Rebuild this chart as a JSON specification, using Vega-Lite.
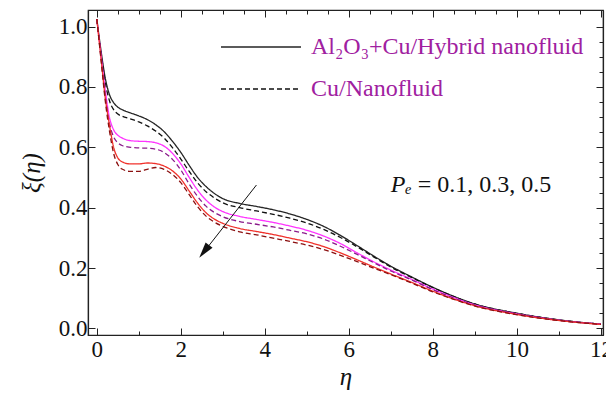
{
  "$schema": "https://vega.github.io/schema/vega-lite/v6.json",
  "width": 515,
  "height": 325,
  "autosize": {"type": "none"},
  "padding": {"left": 88, "top": 10, "right": 3, "bottom": 61},
  "background": "#ffffff",
  "config": {
    "view": {"stroke": "#222222", "strokeWidth": 1.2},
    "axis": {
      "domainColor": "#222222", "domainWidth": 1.2, "tickColor": "#222222", "tickWidth": 1, "grid": false
    }
  },
  "data": {"values": [
    {"c":"H1","eta":0,"xi":1.025},{"c":"H1","eta":0.1,"xi":0.92},{"c":"H1","eta":0.2,"xi":0.83},{"c":"H1","eta":0.3,"xi":0.775},{"c":"H1","eta":0.4,"xi":0.748},{"c":"H1","eta":0.5,"xi":0.733},{"c":"H1","eta":0.6,"xi":0.725},{"c":"H1","eta":0.8,"xi":0.714},{"c":"H1","eta":1.0,"xi":0.704},{"c":"H1","eta":1.2,"xi":0.692},{"c":"H1","eta":1.4,"xi":0.675},{"c":"H1","eta":1.6,"xi":0.652},{"c":"H1","eta":1.8,"xi":0.62},{"c":"H1","eta":2.0,"xi":0.583},{"c":"H1","eta":2.2,"xi":0.54},{"c":"H1","eta":2.4,"xi":0.5},{"c":"H1","eta":2.6,"xi":0.47},{"c":"H1","eta":2.8,"xi":0.447},{"c":"H1","eta":3.0,"xi":0.43},{"c":"H1","eta":3.4,"xi":0.414},{"c":"H1","eta":3.8,"xi":0.404},{"c":"H1","eta":4.2,"xi":0.393},{"c":"H1","eta":4.6,"xi":0.379},{"c":"H1","eta":5.0,"xi":0.361},{"c":"H1","eta":5.4,"xi":0.338},{"c":"H1","eta":5.8,"xi":0.308},{"c":"H1","eta":6.2,"xi":0.274},{"c":"H1","eta":6.6,"xi":0.239},{"c":"H1","eta":7.0,"xi":0.206},{"c":"H1","eta":7.5,"xi":0.17},{"c":"H1","eta":8,"xi":0.136},{"c":"H1","eta":8.5,"xi":0.106},{"c":"H1","eta":9,"xi":0.081},{"c":"H1","eta":10,"xi":0.05},{"c":"H1","eta":11,"xi":0.028},{"c":"H1","eta":12,"xi":0.014},
    {"c":"C1","eta":0,"xi":1.025},{"c":"C1","eta":0.1,"xi":0.915},{"c":"C1","eta":0.2,"xi":0.815},{"c":"C1","eta":0.3,"xi":0.755},{"c":"C1","eta":0.4,"xi":0.725},{"c":"C1","eta":0.5,"xi":0.71},{"c":"C1","eta":0.6,"xi":0.703},{"c":"C1","eta":0.8,"xi":0.694},{"c":"C1","eta":1.0,"xi":0.684},{"c":"C1","eta":1.2,"xi":0.671},{"c":"C1","eta":1.4,"xi":0.654},{"c":"C1","eta":1.6,"xi":0.631},{"c":"C1","eta":1.8,"xi":0.599},{"c":"C1","eta":2.0,"xi":0.561},{"c":"C1","eta":2.2,"xi":0.52},{"c":"C1","eta":2.4,"xi":0.482},{"c":"C1","eta":2.6,"xi":0.453},{"c":"C1","eta":2.8,"xi":0.432},{"c":"C1","eta":3.0,"xi":0.416},{"c":"C1","eta":3.4,"xi":0.4},{"c":"C1","eta":3.8,"xi":0.389},{"c":"C1","eta":4.2,"xi":0.378},{"c":"C1","eta":4.6,"xi":0.365},{"c":"C1","eta":5.0,"xi":0.349},{"c":"C1","eta":5.4,"xi":0.328},{"c":"C1","eta":5.8,"xi":0.301},{"c":"C1","eta":6.2,"xi":0.27},{"c":"C1","eta":6.6,"xi":0.236},{"c":"C1","eta":7.0,"xi":0.203},{"c":"C1","eta":7.5,"xi":0.168},{"c":"C1","eta":8,"xi":0.135},{"c":"C1","eta":8.5,"xi":0.105},{"c":"C1","eta":9,"xi":0.08},{"c":"C1","eta":10,"xi":0.05},{"c":"C1","eta":11,"xi":0.028},{"c":"C1","eta":12,"xi":0.014},
    {"c":"H3","eta":0,"xi":1.025},{"c":"H3","eta":0.1,"xi":0.905},{"c":"H3","eta":0.2,"xi":0.79},{"c":"H3","eta":0.3,"xi":0.7},{"c":"H3","eta":0.4,"xi":0.658},{"c":"H3","eta":0.5,"xi":0.64},{"c":"H3","eta":0.6,"xi":0.631},{"c":"H3","eta":0.8,"xi":0.622},{"c":"H3","eta":1.0,"xi":0.62},{"c":"H3","eta":1.2,"xi":0.619},{"c":"H3","eta":1.4,"xi":0.615},{"c":"H3","eta":1.6,"xi":0.604},{"c":"H3","eta":1.8,"xi":0.58},{"c":"H3","eta":2.0,"xi":0.545},{"c":"H3","eta":2.2,"xi":0.5},{"c":"H3","eta":2.4,"xi":0.458},{"c":"H3","eta":2.6,"xi":0.425},{"c":"H3","eta":2.8,"xi":0.402},{"c":"H3","eta":3.0,"xi":0.387},{"c":"H3","eta":3.4,"xi":0.371},{"c":"H3","eta":3.8,"xi":0.361},{"c":"H3","eta":4.2,"xi":0.351},{"c":"H3","eta":4.6,"xi":0.339},{"c":"H3","eta":5.0,"xi":0.325},{"c":"H3","eta":5.4,"xi":0.306},{"c":"H3","eta":5.8,"xi":0.281},{"c":"H3","eta":6.2,"xi":0.25},{"c":"H3","eta":6.6,"xi":0.22},{"c":"H3","eta":7.0,"xi":0.193},{"c":"H3","eta":7.5,"xi":0.162},{"c":"H3","eta":8,"xi":0.13},{"c":"H3","eta":8.5,"xi":0.102},{"c":"H3","eta":9,"xi":0.078},{"c":"H3","eta":10,"xi":0.048},{"c":"H3","eta":11,"xi":0.027},{"c":"H3","eta":12,"xi":0.014},
    {"c":"C3","eta":0,"xi":1.025},{"c":"C3","eta":0.1,"xi":0.9},{"c":"C3","eta":0.2,"xi":0.775},{"c":"C3","eta":0.3,"xi":0.68},{"c":"C3","eta":0.4,"xi":0.635},{"c":"C3","eta":0.5,"xi":0.615},{"c":"C3","eta":0.6,"xi":0.606},{"c":"C3","eta":0.8,"xi":0.6},{"c":"C3","eta":1.0,"xi":0.598},{"c":"C3","eta":1.2,"xi":0.597},{"c":"C3","eta":1.4,"xi":0.594},{"c":"C3","eta":1.6,"xi":0.583},{"c":"C3","eta":1.8,"xi":0.56},{"c":"C3","eta":2.0,"xi":0.525},{"c":"C3","eta":2.2,"xi":0.478},{"c":"C3","eta":2.4,"xi":0.437},{"c":"C3","eta":2.6,"xi":0.405},{"c":"C3","eta":2.8,"xi":0.384},{"c":"C3","eta":3.0,"xi":0.37},{"c":"C3","eta":3.4,"xi":0.354},{"c":"C3","eta":3.8,"xi":0.345},{"c":"C3","eta":4.2,"xi":0.336},{"c":"C3","eta":4.6,"xi":0.325},{"c":"C3","eta":5.0,"xi":0.313},{"c":"C3","eta":5.4,"xi":0.296},{"c":"C3","eta":5.8,"xi":0.272},{"c":"C3","eta":6.2,"xi":0.245},{"c":"C3","eta":6.6,"xi":0.217},{"c":"C3","eta":7.0,"xi":0.19},{"c":"C3","eta":7.5,"xi":0.16},{"c":"C3","eta":8,"xi":0.128},{"c":"C3","eta":8.5,"xi":0.1},{"c":"C3","eta":9,"xi":0.077},{"c":"C3","eta":10,"xi":0.048},{"c":"C3","eta":11,"xi":0.027},{"c":"C3","eta":12,"xi":0.014},
    {"c":"H5","eta":0,"xi":1.025},{"c":"H5","eta":0.1,"xi":0.895},{"c":"H5","eta":0.2,"xi":0.765},{"c":"H5","eta":0.3,"xi":0.675},{"c":"H5","eta":0.4,"xi":0.6},{"c":"H5","eta":0.5,"xi":0.565},{"c":"H5","eta":0.6,"xi":0.552},{"c":"H5","eta":0.8,"xi":0.545},{"c":"H5","eta":1.0,"xi":0.545},{"c":"H5","eta":1.2,"xi":0.548},{"c":"H5","eta":1.4,"xi":0.546},{"c":"H5","eta":1.6,"xi":0.538},{"c":"H5","eta":1.8,"xi":0.522},{"c":"H5","eta":2.0,"xi":0.495},{"c":"H5","eta":2.2,"xi":0.455},{"c":"H5","eta":2.4,"xi":0.415},{"c":"H5","eta":2.6,"xi":0.383},{"c":"H5","eta":2.8,"xi":0.362},{"c":"H5","eta":3.0,"xi":0.348},{"c":"H5","eta":3.4,"xi":0.331},{"c":"H5","eta":3.8,"xi":0.321},{"c":"H5","eta":4.2,"xi":0.311},{"c":"H5","eta":4.6,"xi":0.299},{"c":"H5","eta":5.0,"xi":0.287},{"c":"H5","eta":5.4,"xi":0.271},{"c":"H5","eta":5.8,"xi":0.25},{"c":"H5","eta":6.2,"xi":0.227},{"c":"H5","eta":6.6,"xi":0.203},{"c":"H5","eta":7.0,"xi":0.18},{"c":"H5","eta":7.5,"xi":0.152},{"c":"H5","eta":8,"xi":0.123},{"c":"H5","eta":8.5,"xi":0.097},{"c":"H5","eta":9,"xi":0.075},{"c":"H5","eta":10,"xi":0.046},{"c":"H5","eta":11,"xi":0.026},{"c":"H5","eta":12,"xi":0.013},
    {"c":"C5","eta":0,"xi":1.025},{"c":"C5","eta":0.1,"xi":0.89},{"c":"C5","eta":0.2,"xi":0.755},{"c":"C5","eta":0.3,"xi":0.655},{"c":"C5","eta":0.4,"xi":0.58},{"c":"C5","eta":0.5,"xi":0.543},{"c":"C5","eta":0.6,"xi":0.528},{"c":"C5","eta":0.8,"xi":0.52},{"c":"C5","eta":1.0,"xi":0.52},{"c":"C5","eta":1.2,"xi":0.527},{"c":"C5","eta":1.4,"xi":0.533},{"c":"C5","eta":1.6,"xi":0.527},{"c":"C5","eta":1.8,"xi":0.51},{"c":"C5","eta":2.0,"xi":0.483},{"c":"C5","eta":2.2,"xi":0.443},{"c":"C5","eta":2.4,"xi":0.403},{"c":"C5","eta":2.6,"xi":0.372},{"c":"C5","eta":2.8,"xi":0.352},{"c":"C5","eta":3.0,"xi":0.338},{"c":"C5","eta":3.4,"xi":0.32},{"c":"C5","eta":3.8,"xi":0.31},{"c":"C5","eta":4.2,"xi":0.299},{"c":"C5","eta":4.6,"xi":0.288},{"c":"C5","eta":5.0,"xi":0.276},{"c":"C5","eta":5.4,"xi":0.261},{"c":"C5","eta":5.8,"xi":0.242},{"c":"C5","eta":6.2,"xi":0.221},{"c":"C5","eta":6.6,"xi":0.199},{"c":"C5","eta":7.0,"xi":0.178},{"c":"C5","eta":7.5,"xi":0.15},{"c":"C5","eta":8,"xi":0.121},{"c":"C5","eta":8.5,"xi":0.096},{"c":"C5","eta":9,"xi":0.074},{"c":"C5","eta":10,"xi":0.045},{"c":"C5","eta":11,"xi":0.026},{"c":"C5","eta":12,"xi":0.013}
  ]},
  "layer": [
    {
      "layer": [
        {
          "mark": {"type": "line", "interpolate": "monotone", "strokeWidth": 1.3},
          "encoding": {
            "x": {"field": "eta", "type": "quantitative",
              "scale": {"domain": [-0.21, 12.05], "nice": false, "zero": false},
              "axis": {"orient": "bottom", "title": "η", "titlePadding": 3, "labelPadding": 10,
                "labelFont": "Liberation Serif", "labelFontSize": 23, "labelColor": "#111111",
                "titleFont": "Liberation Serif", "titleFontSize": 25, "titleFontStyle": "italic", "titleFontWeight": "normal", "titleColor": "#111111",
                "values": [0,0.5,1,1.5,2,2.5,3,3.5,4,4.5,5,5.5,6,6.5,7,7.5,8,8.5,9,9.5,10,10.5,11,11.5,12],
                "labelExpr": "datum.value % 2 == 0 ? format(datum.value, 'd') : ''",
                "tickSize": {"condition": {"test": "datum.value % 2 == 0", "value": -7}, "value": -4}}},
            "y": {"field": "xi", "type": "quantitative",
              "scale": {"domain": [-0.022, 1.055], "nice": false, "zero": false},
              "axis": {"orient": "left", "title": "ξ(η)", "titlePadding": 14, "labelPadding": 8,
                "labelFont": "Liberation Serif", "labelFontSize": 23, "labelColor": "#111111",
                "titleFont": "Liberation Serif", "titleFontSize": 25, "titleFontStyle": "italic", "titleFontWeight": "normal", "titleColor": "#111111",
                "values": [0,0.05,0.1,0.15,0.2,0.25,0.3,0.35,0.4,0.45,0.5,0.55,0.6,0.65,0.7,0.75,0.8,0.85,0.9,0.95,1.0],
                "labelExpr": "abs(datum.value*5 - round(datum.value*5)) < 0.000001 ? format(datum.value, '.1f') : ''",
                "tickSize": {"condition": {"test": "abs(datum.value*5 - round(datum.value*5)) < 0.000001", "value": -7}, "value": -4}}},
            "color": {"field": "c", "type": "nominal",
              "scale": {"domain": ["H1","H3","H5","C1","C3","C5"], "range": ["#262626","#ff33ff","#f0302a","#111111","#8a1a8a","#8b1010"]},
              "legend": {"orient": "none", "legendX": 132, "legendY": 25, "values": ["H1","C1"],
                "labelExpr": "datum.value == 'H1' ? 'Al₂O₃+Cu/Hybrid nanofluid' : 'Cu/Nanofluid'",
                "symbolType": "stroke", "symbolSize": 6400, "symbolStrokeColor": "#222222", "symbolStrokeWidth": 1.3,
                "labelFont": "Liberation Serif", "labelFontSize": 24, "labelColor": "#a020a0", "labelOffset": 9,
                "clipHeight": 24, "rowPadding": 18, "title": null, "labelLimit": 0, "padding": 0}},
            "strokeDash": {"field": "c", "type": "nominal",
              "scale": {"domain": ["H1","H3","H5","C1","C3","C5"], "range": [[1,0],[1,0],[1,0],[5,3],[5,3],[5,3]]},
              "legend": {"orient": "none", "legendX": 132, "legendY": 25, "values": ["H1","C1"],
                "labelExpr": "datum.value == 'H1' ? 'Al₂O₃+Cu/Hybrid nanofluid' : 'Cu/Nanofluid'",
                "symbolType": "stroke", "symbolSize": 6400, "symbolStrokeColor": "#222222", "symbolStrokeWidth": 1.3,
                "labelFont": "Liberation Serif", "labelFontSize": 24, "labelColor": "#a020a0", "labelOffset": 9,
                "clipHeight": 24, "rowPadding": 18, "title": null, "labelLimit": 0, "padding": 0}}
          }
        },
        {
          "data": {"values": [{"eta": 3.8, "xi": 0.475, "eta2": 2.56, "xi2": 0.255}]},
          "mark": {"type": "rule", "color": "#111111", "strokeWidth": 1},
          "encoding": {
            "x": {"field": "eta", "type": "quantitative", "scale": {"domain": [-0.21, 12.05], "nice": false, "zero": false}},
            "y": {"field": "xi", "type": "quantitative", "scale": {"domain": [-0.022, 1.055], "nice": false, "zero": false}},
            "x2": {"field": "eta2"},
            "y2": {"field": "xi2"}
          }
        },
        {
          "data": {"values": [{"eta": 2.555, "xi": 0.255}]},
          "mark": {"type": "point", "shape": "M0,-1L0.55,1L-0.55,1Z", "size": 256, "angle": 218, "filled": true, "color": "#111111", "opacity": 1},
          "encoding": {
            "x": {"field": "eta", "type": "quantitative", "scale": {"domain": [-0.21, 12.05], "nice": false, "zero": false}},
            "y": {"field": "xi", "type": "quantitative", "scale": {"domain": [-0.022, 1.055], "nice": false, "zero": false}}
          }
        },
        {
          "data": {"values": [{"eta": 7.0, "xi": 0.475, "t": "Pₑ"}]},
          "mark": {"type": "text", "align": "left", "baseline": "middle", "font": "Liberation Serif", "fontSize": 24, "fontStyle": "italic", "color": "#111111"},
          "encoding": {
            "x": {"field": "eta", "type": "quantitative", "scale": {"domain": [-0.21, 12.05], "nice": false, "zero": false}},
            "y": {"field": "xi", "type": "quantitative", "scale": {"domain": [-0.022, 1.055], "nice": false, "zero": false}},
            "text": {"field": "t"}
          }
        },
        {
          "data": {"values": [{"eta": 7.64, "xi": 0.475, "t": "= 0.1, 0.3, 0.5"}]},
          "mark": {"type": "text", "align": "left", "baseline": "middle", "font": "Liberation Serif", "fontSize": 24, "color": "#111111"},
          "encoding": {
            "x": {"field": "eta", "type": "quantitative", "scale": {"domain": [-0.21, 12.05], "nice": false, "zero": false}},
            "y": {"field": "xi", "type": "quantitative", "scale": {"domain": [-0.022, 1.055], "nice": false, "zero": false}},
            "text": {"field": "t"}
          }
        }
      ]
    },
    {
      "mark": {"type": "line", "opacity": 0},
      "encoding": {
        "detail": {"field": "c", "type": "nominal"},
        "x": {"field": "eta", "type": "quantitative",
          "scale": {"domain": [-0.21, 12.05], "nice": false, "zero": false},
          "axis": {"orient": "top", "title": null, "labels": false,
            "values": [0,0.5,1,1.5,2,2.5,3,3.5,4,4.5,5,5.5,6,6.5,7,7.5,8,8.5,9,9.5,10,10.5,11,11.5,12],
            "tickSize": {"condition": {"test": "datum.value % 2 == 0", "value": -7}, "value": -4}}},
        "y": {"field": "xi", "type": "quantitative",
          "scale": {"domain": [-0.022, 1.055], "nice": false, "zero": false},
          "axis": {"orient": "right", "title": null, "labels": false,
            "values": [0,0.05,0.1,0.15,0.2,0.25,0.3,0.35,0.4,0.45,0.5,0.55,0.6,0.65,0.7,0.75,0.8,0.85,0.9,0.95,1.0],
            "tickSize": {"condition": {"test": "abs(datum.value*5 - round(datum.value*5)) < 0.000001", "value": -7}, "value": -4}}}
      }
    }
  ],
  "resolve": {"scale": {"x": "independent", "y": "independent"}}
}
